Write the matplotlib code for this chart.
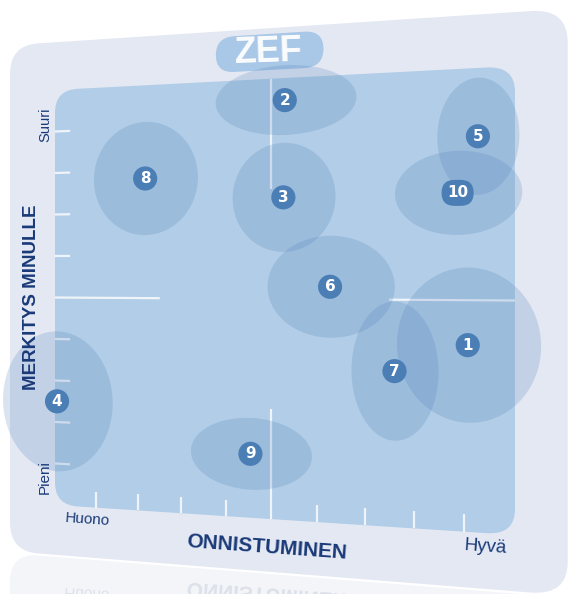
import numpy as np
import matplotlib
matplotlib.use('Agg')
import matplotlib.pyplot as plt
from matplotlib.patches import Ellipse, FancyBboxPatch, PathPatch
from matplotlib.transforms import Transform, Affine2D
from matplotlib.textpath import TextPath
from matplotlib.font_manager import FontProperties

# -- data (0 = Huono / Pieni, 10 = Hyvä / Suuri) -------------------------
items      = ['1', '2', '3', '4', '5', '6', '7', '8', '9', '10']
success    = [9.08, 5.30, 5.27, 0.05, 9.28, 6.27, 7.61, 2.16, 4.55, 8.88]   # ONNISTUMINEN
importance = [4.03, 9.50, 7.30, 2.50, 8.53, 5.28, 3.43, 7.81, 1.46, 7.32]   # MERKITYS MINULLE
spread_x   = [2.84, 3.05, 2.23, 2.69, 1.61, 2.69, 1.78, 2.43, 2.67, 2.52]
spread_y   = [3.35, 1.58, 2.47, 3.37, 2.52, 2.28, 3.06, 2.66, 1.64, 1.82]
ticks      = [1, 2, 3, 4, 6, 7, 8, 9]
mid        = 5

# -- colours ---------------------------------------------------------------
FRAME  = '#E3E8F3'
PANEL  = '#B2CDE7'
BUBBLE = '#4678B4'
MARK   = '#4B7EB5'
NAVY   = '#1A3A78'
PILL   = '#A9C7E6'


class Perspective(Transform):
    """Plane homography: chart units -> pixel position on the tilted board."""
    input_dims = 2
    output_dims = 2
    is_separable = False
    has_inverse = True

    def __init__(self, H):
        super().__init__()
        self.H = np.asarray(H, float)

    def transform_non_affine(self, values):
        v = np.asarray(values, float).reshape(-1, 2)
        p = np.column_stack([v, np.ones(len(v))]) @ self.H.T
        return p[:, :2] / p[:, 2:3]

    def inverted(self):
        return Perspective(np.linalg.inv(self.H))


def homography(src, dst):
    A, b = [], []
    for (x, y), (X, Y) in zip(src, dst):
        A.append([x, y, 1, 0, 0, 0, -X * x, -X * y]); b.append(X)
        A.append([0, 0, 0, x, y, 1, -Y * x, -Y * y]); b.append(Y)
    h = np.linalg.solve(np.array(A, float), np.array(b, float))
    return np.append(h, 1).reshape(3, 3)


fig = plt.figure(figsize=(5.73, 5.94), dpi=100, facecolor='white')
ax = fig.add_axes([0, 0, 1, 1])
ax.set_autoscale_on(False)
ax.set_xlim(0, 573)
ax.set_ylim(594, 0)
ax.axis('off')

# board corners (0,0) (0,10) (10,10) (10,0) seen in perspective
H = homography([(0, 0), (0, 10), (10, 10), (10, 0)],
               [(55, 505), (55, 90), (515, 66), (515, 535)])
P = Perspective(H)
T = P + ax.transData

# reflection of the frame below
fu0, fv0, fu1, fv1 = -1.12, -1.2, 11.0, 11.15
refl = FancyBboxPatch((fu0, fv0 - 2.6), fu1 - fu0, 2.55,
                      boxstyle='round,pad=0,rounding_size=0.7',
                      fc='#F3F5F9', ec='none', transform=T, zorder=0.5)
ax.add_patch(refl)

# outer frame
frame = FancyBboxPatch((fu0, fv0), fu1 - fu0, fv1 - fv0,
                       boxstyle='round,pad=0,rounding_size=0.7',
                       fc=FRAME, ec='none', transform=T, zorder=1)
ax.add_patch(frame)

# inner board
panel = FancyBboxPatch((0, 0), 10, 10, boxstyle='round,pad=0,rounding_size=0.55',
                       fc=PANEL, ec='none', transform=T, zorder=2)
ax.add_patch(panel)

# ZEF pill
pill = FancyBboxPatch((3.78, 10.2), 2.35, 0.82, boxstyle='round,pad=0,rounding_size=0.41',
                      fc=PILL, ec='none', transform=T, zorder=2.5)
ax.add_patch(pill)
ax.text(4.95, 10.6, 'ZEF', transform=T, ha='center', va='center', color='white',
        fontsize=26, fontweight='bold', family='Liberation Sans', rotation=2, zorder=6,
        alpha=0.95)

# ticks and cross lines
lc = dict(color='white', lw=1.6, alpha=0.8, transform=T, zorder=3, solid_capstyle='butt')
for t in ticks:
    ax.plot([t, t], [0, 0.38], **lc)
    ax.plot([0, 0.37], [t, t], **lc)
ax.plot([mid, mid], [0, 2.5], **lc)
ax.plot([mid, mid], [10, 7.5], **lc)
ax.plot([0, 2.5], [mid, mid], **lc)
ax.plot([7.5, 10], [mid, mid], **lc)

# bubbles
for x, y, sx, sy in zip(success, importance, spread_x, spread_y):
    ax.add_patch(Ellipse((x, y), sx, sy, fc=BUBBLE, ec='none', alpha=0.2,
                         transform=T, zorder=4))

for lab, x, y in zip(items, success, importance):
    style = 'circle,pad=0.3' if len(lab) == 1 else 'round,pad=0.36,rounding_size=0.85'
    ax.text(x, y, lab, transform=T, ha='center', va='center', color='white',
            fontsize=11, fontweight='bold', family='DejaVu Sans', zorder=6,
            bbox=dict(boxstyle=style, fc=MARK, ec='none'))

# axis texts
ax.text(-0.57, 5.0, 'MERKITYS MINULLE', transform=T, rotation=90, ha='center', va='center',
        color=NAVY, fontsize=13.5, fontweight='bold', family='Liberation Sans', zorder=6)
ax.text(-0.25, 9.17, 'Suuri', transform=T, rotation=90, ha='center', va='center',
        color=NAVY, fontsize=10.5, family='Liberation Sans', zorder=6)
ax.text(-0.25, 0.66, 'Pieni', transform=T, rotation=90, ha='center', va='center',
        color=NAVY, fontsize=11, family='Liberation Sans', zorder=6)
ax.text(0.78, -0.31, 'Huono', transform=T, rotation=-4, ha='center', va='center',
        color=NAVY, fontsize=11, family='Liberation Sans', zorder=6)
ax.text(9.42, -0.30, 'Hyvä', transform=T, rotation=-4, ha='center', va='center',
        color=NAVY, fontsize=13.5, family='Liberation Sans', zorder=6)
ax.text(4.91, -0.66, 'ONNISTUMINEN', transform=T, rotation=-4.2, ha='center', va='center',
        color=NAVY, fontsize=15, fontweight='bold', family='Liberation Sans', zorder=6)

# mirrored texts in the reflection
for s, u, v, size, weight in [('Huono', 0.78, -0.31, 11, 'normal'),
                              ('ONNISTUMINEN', 4.91, -0.66, 15, 'bold')]:
    fp = FontProperties(family='Liberation Sans', weight=weight)
    tp = TextPath((0, 0), s, prop=fp, size=size * 100 / 72)
    ext = tp.get_extents()
    cx, cy = (ext.x0 + ext.x1) / 2, (ext.y0 + ext.y1) / 2
    px, py = P.transform((u, v))
    ex, ey = P.transform((u, fv0))
    tr = (Affine2D().translate(-cx, -cy).rotate_deg(4).translate(px, 2 * ey - py)
          + ax.transData)
    ax.add_patch(PathPatch(tp, fc='#DDE1E9', ec='none', transform=tr, zorder=0.8))

fig.savefig('out.png', dpi=100, facecolor='white')
